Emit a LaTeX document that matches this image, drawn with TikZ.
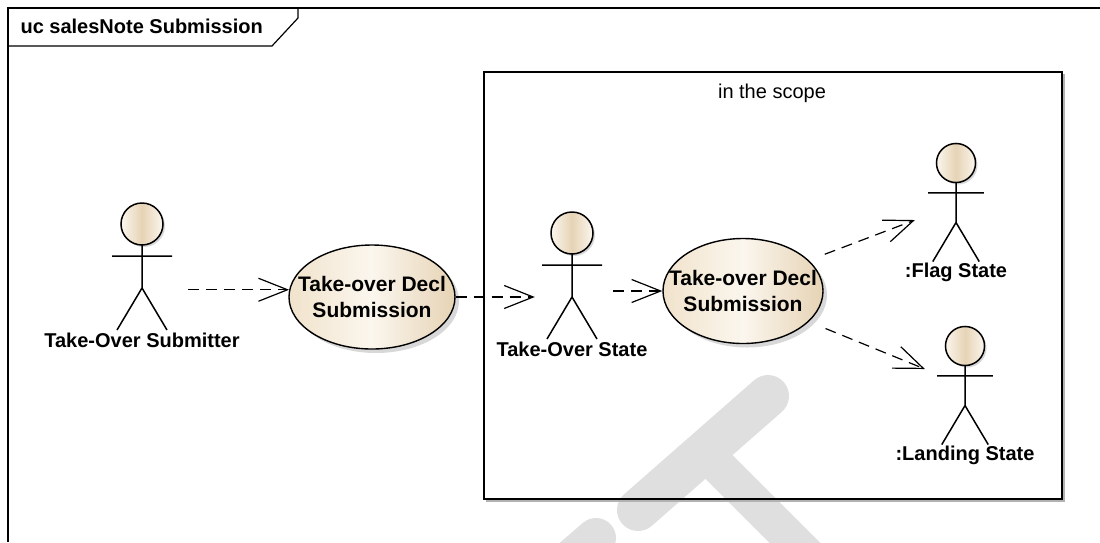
\documentclass[tikz,border=0pt]{standalone}
\usepackage{fontspec}
\setmainfont{Liberation Sans}
\usetikzlibrary{arrows.meta,shapes.geometric,shadows}
\definecolor{ucpale}{HTML}{FBF6EE}
\definecolor{ucbeige}{HTML}{F1E3CC}
\definecolor{uctan}{HTML}{E6D3B5}
\definecolor{ucmark}{HTML}{DFDFDF}
\tikzset{
  stick/.style={line width=1.5pt},
  head/.style={left color=ucpale,right color=ucpale,middle color=uctan,
    drop shadow={shadow xshift=2pt,shadow yshift=-2pt,fill=black!30}},
  usecase/.style={ellipse,draw,line width=1.4pt,inner xsep=-15.5pt,inner ysep=12pt,
    left color=ucbeige,right color=uctan,middle color=ucpale,
    drop shadow={shadow xshift=4pt,shadow yshift=-4pt,fill=black!30},
    font=\bfseries\fontsize{21}{26}\selectfont,align=center},
  actorlabel/.style={font=\bfseries\fontsize{20}{24}\selectfont,anchor=base},
  dep/.style={line width=1.2pt,dash pattern=on 11pt off 7pt,
    -{Straight Barb[length=29pt,width=23pt,line width=1.2pt]}},
  mark/.style={ucmark,line width=#1}
}
\newcommand{\ucactor}[5]{%
  \begin{scope}[shift={(#2,#3)},scale=#4]
    \draw[stick,head] (0,0) circle[radius=21];
    \draw[stick] (0,21) -- (0,64) (-30,32) -- (30,32) (-25,106) -- (0,64) -- (25,106);
    \node[inner sep=0pt,minimum width=#4*60pt,minimum height=#4*127pt] (#1) at (0,42.5) {};
    \node[actorlabel] (#1label) at (0,123) {#5};
  \end{scope}}
\begin{document}
\begin{tikzpicture}[x=1pt,y=-1pt]
\useasboundingbox (0,0) rectangle (1100,542);
\draw[mark=42pt,line cap=round] (638,510) -- (768,396);
\draw[mark=36pt] (718,466) -- (840,588);
\draw[mark=40pt,line cap=round] (596,538) -- (553,575);
\draw[gray!60,line width=2pt] (1064,74) -- (1064,501) -- (486,501);
\draw[line width=1.5pt] (484,72) rectangle (1062,499);
\node[anchor=base,font=\fontsize{20}{24}\selectfont] (scopename) at (772,98) {in the scope};
\draw[line width=1.5pt] (8,542) -- (8,8) -- (1100,8);
\draw[line width=1.2pt] (8,46) -- (272,46) -- (298,18) -- (298,8);
\node[anchor=base west,font=\bfseries\fontsize{20}{24}\selectfont] (title) at (17,33) {uc salesNote Submission};
\ucactor{sub}{142}{224}{1}{Take-Over Submitter}
\ucactor{ts}{572}{233}{1}{Take-Over State}
\ucactor{flag}{956}{163}{0.93}{:Flag State}
\ucactor{land}{965}{346}{0.93}{:Landing State}
\node[usecase,minimum width=166pt,minimum height=104pt] (dec1) at (372,297) {Take-over Decl\\Submission};
\node[usecase,inner xsep=-17.5pt,minimum width=160pt,minimum height=105pt] (dec2) at (743,291) {Take-over Decl\\Submission};
\draw[dep] ([xshift=16pt]sub.east |- dec1.175) -- (dec1.175);
\draw[dep] (dec1.east) -- ([xshift=-7pt]ts.west |- dec1.east);
\draw[dep] ([xshift=11pt]ts.east |- dec2.west) -- (dec2.west);
\draw[dep,shorten <=17pt] (dec2.25) -- ([xshift=-13pt,yshift=-17.5pt]flag.west);
\draw[dep,shorten <=18pt] (dec2.-25) -- ([xshift=-12pt,yshift=16.5pt]land.west);
\end{tikzpicture}
\end{document}
